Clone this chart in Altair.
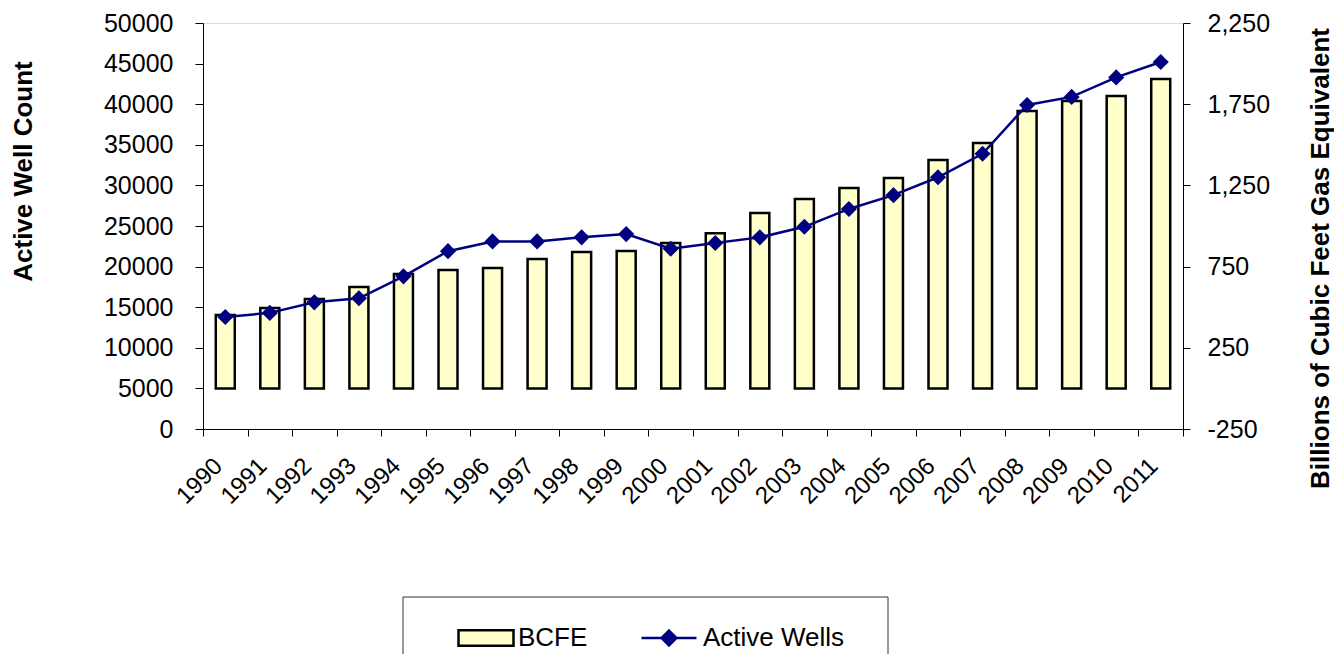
import altair as alt
import pandas as pd

years = [str(y) for y in range(1990, 2012)]
bcfe = [452, 495, 550, 624, 704, 729, 741, 797, 840, 846, 895, 956,
        1080, 1166, 1234, 1296, 1406, 1511, 1708, 1770, 1800, 1905]
wells = [13800, 14300, 15600, 16100, 18800, 21900, 23100, 23100, 23600, 24000, 22200,
         22900, 23600, 24900, 27100, 28800, 31000, 33900, 39900, 40900, 43300, 45200]
left_ticks = list(range(0, 50001, 5000))
right_ticks = [-250, 250, 750, 1250, 1750, 2250]

df = pd.DataFrame({"year": years, "bcfe": bcfe, "wells": wells,
                   "bs": ["BCFE"] * len(years), "ls": ["Active Wells"] * len(years)})

FONT = "Liberation Sans"

x_enc = alt.X("year:O", title=None,
              scale=alt.Scale(paddingInner=0, paddingOuter=0),
              axis=alt.Axis(labelAngle=-45, labelAlign="right", labelBaseline="middle",
                            labelFontSize=24, labelPadding=26, labelOffset=-7,
                            tickBand="extent",
                            tickSize=7, tickColor="black", domainColor="black",
                            labelColor="black", labelFont=FONT))

bars = alt.Chart(df).mark_bar(size=19, stroke="black", strokeWidth=2.5).encode(
    x=x_enc,
    y=alt.Y("bcfe:Q",
            scale=alt.Scale(domain=[-250, 2250], nice=False, zero=False),
            axis=alt.Axis(orient="right", values=right_ticks, grid=False,
                          labelExpr="datum.value < 0 ? '-' + format(-datum.value, ',.0f') : format(datum.value, ',.0f')",
                          title="Billions of Cubic Feet Gas Equivalent",
                          titleFontSize=26, titleFontWeight="bold", titleFont=FONT,
                          titleAngle=270, titleX=137, titleY=235,
                          titleBaseline="middle", titleAlign="center",
                          labelFontSize=25, labelFont=FONT, labelColor="black",
                          labelPadding=17, tickSize=7, tickColor="black",
                          domainColor="black", titleColor="black")),
    fill=alt.Fill("bs:N", scale=alt.Scale(domain=["BCFE"], range=["#FFFFCC"]),
                  legend=alt.Legend(title=None, orient="none", legendX=254, legendY=586,
                                    symbolType="M-1,-0.28H1V0.28H-1Z", symbolSize=3025,
                                    symbolFillColor="#FFFFCC", symbolStrokeColor="black",
                                    symbolStrokeWidth=2.5,
                                    labelFontSize=26, labelFont=FONT, labelColor="black",
                                    labelOffset=3, padding=0)),
)

line = alt.Chart(df).mark_line(
    strokeWidth=2.5,
    point=alt.OverlayMarkDef(shape="diamond", size=260, filled=True, color="#000080"),
).encode(
    x=x_enc,
    y=alt.Y("wells:Q",
            scale=alt.Scale(domain=[0, 50000], nice=False),
            axis=alt.Axis(orient="left", values=left_ticks, format="d", grid=False,
                          title="Active Well Count",
                          titleFontSize=26, titleFontWeight="bold", titleFont=FONT,
                          titleAngle=270, titleX=-180, titleY=148,
                          titleBaseline="middle", titleAlign="center",
                          labelFontSize=25, labelFont=FONT, labelColor="black",
                          labelPadding=22, tickSize=8, tickColor="black",
                          domainColor="black", titleColor="black")),
    color=alt.Color("ls:N", scale=alt.Scale(domain=["Active Wells"], range=["#000080"]),
                    legend=alt.Legend(title=None, orient="none", legendX=437, legendY=586,
                                      symbolType="M-1,0H1M0,-0.27L0.27,0L0,0.27L-0.27,0Z",
                                      symbolSize=3025,
                                      symbolFillColor="#000080", symbolStrokeColor="#000080",
                                      symbolStrokeWidth=2.5,
                                      labelFontSize=26, labelFont=FONT, labelColor="black",
                                      labelOffset=5, padding=0)),
)

box = alt.Chart(pd.DataFrame({"a": [0]})).mark_rect(
    fill="transparent", stroke="#333333", strokeWidth=1
).encode(x=alt.value(200), x2=alt.value(685), y=alt.value(574), y2=alt.value(700))

chart = alt.layer(bars, line, box).resolve_scale(
    y="independent", fill="independent", color="independent"
).properties(
    width=980, height=406,
    autosize=alt.AutoSizeParams(type="none"),
    padding={"left": 195, "top": 15, "right": 151, "bottom": 225},
).configure_view(
    fill="#C0C0C0", stroke="#808080", strokeWidth=1
).configure(font=FONT)

chart.save("out.html", embed_options={"renderer": "svg", "actions": False})
